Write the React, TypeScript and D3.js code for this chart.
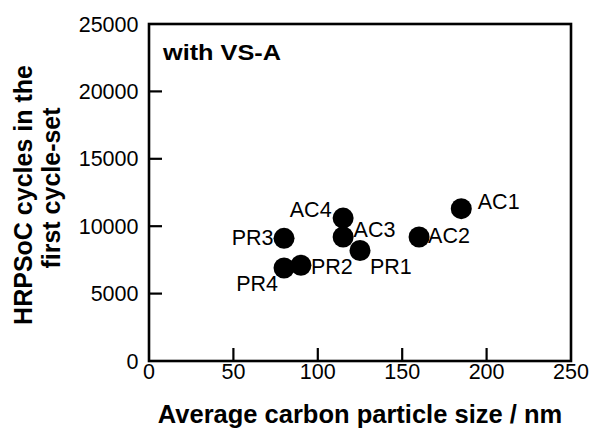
import React from "react";
import * as d3 from "d3";

// Carbon samples: average particle size (nm) vs HRPSoC cycles in the first cycle-set
const sampleNames = ["AC1", "AC2", "AC3", "AC4", "PR1", "PR2", "PR3", "PR4"];
const particleSize = [185, 160, 115, 115, 125, 90, 80, 80];
const hrpsocCycles = [11300, 9200, 9200, 10600, 8200, 7100, 9100, 6900];
// label placement relative to each marker: [dx, dy, anchor]
const labelOffsets: [number, number, string][] = [
  [16.5, 0.5, "start"],
  [9, 6.5, "start"],
  [10.5, 0, "start"],
  [-11.5, -1.5, "end"],
  [10, 23.5, "start"],
  [10, 8.5, "start"],
  [-10.5, 6.5, "end"],
  [-6, 23.5, "end"],
];
const xTicks = [0, 50, 100, 150, 200, 250];
const yTicks = [0, 5000, 10000, 15000, 20000, 25000];

const W = 590;
const H = 431;
const M = { left: 149, right: 571, top: 24, bottom: 361 };
const FONT = "'Liberation Sans', Arial, sans-serif";

export default function App() {
  const x = d3.scaleLinear().domain([0, 250]).range([M.left, M.right]);
  const y = d3.scaleLinear().domain([0, 25000]).range([M.bottom, M.top]);
  const tickLen = 13;

  return (
    <svg
      width={W}
      height={H}
      style={{ position: "absolute", left: 0, top: 0, background: "#fff" }}
      fontFamily={FONT}
    >
      <rect
        x={M.left}
        y={M.top}
        width={M.right - M.left}
        height={M.bottom - M.top}
        fill="none"
        stroke="#000"
        strokeWidth={2.6}
      />
      {xTicks.map((t) => (
        <g key={"x" + t}>
          {t > 0 && t < 250 && (
            <line x1={x(t)} x2={x(t)} y1={M.bottom} y2={M.bottom - tickLen} stroke="#000" strokeWidth={2.2} />
          )}
          <text x={x(t)} y={378.5} textAnchor="middle" fontSize={21.5}>
            {t}
          </text>
        </g>
      ))}
      {yTicks.map((t) => (
        <g key={"y" + t}>
          {t > 0 && t < 25000 && (
            <line x1={M.left} x2={M.left + tickLen} y1={y(t)} y2={y(t)} stroke="#000" strokeWidth={2.2} />
          )}
          <text x={138.5} y={y(t) + 7.5} textAnchor="end" fontSize={21.5}>
            {t}
          </text>
        </g>
      ))}
      {particleSize.map((v, i) => (
        <circle key={"c" + i} cx={x(v)} cy={y(hrpsocCycles[i])} r={10.5} fill="#000" />
      ))}
      {sampleNames.map((n, i) => (
        <text
          key={"l" + i}
          x={x(particleSize[i]) + labelOffsets[i][0]}
          y={y(hrpsocCycles[i]) + labelOffsets[i][1]}
          textAnchor={labelOffsets[i][2] as any}
          fontSize={21.5}
        >
          {n}
        </text>
      ))}
      <text x={163} y={60} fontSize={22} fontWeight="bold" textLength={118} lengthAdjust="spacingAndGlyphs">
        with VS-A
      </text>
      <text x={(M.left + M.right) / 2} y={422.5} textAnchor="middle" fontSize={25.5} fontWeight="bold">
        Average carbon particle size / nm
      </text>
      <text
        transform="translate(32, 195) rotate(-90)"
        textAnchor="middle"
        fontSize={25}
        fontWeight="bold"
      >
        HRPSoC cycles in the
      </text>
      <text
        transform="translate(59.5, 188) rotate(-90)"
        textAnchor="middle"
        fontSize={25}
        fontWeight="bold"
      >
        first cycle-set
      </text>
    </svg>
  );
}
